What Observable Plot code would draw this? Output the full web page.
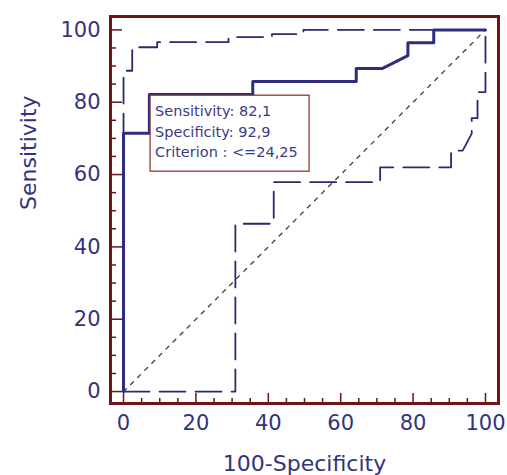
<!DOCTYPE html>
<html>
<head>
<meta charset="utf-8">
<script src="https://cdn.jsdelivr.net/npm/d3@7"></script>
<script src="https://cdn.jsdelivr.net/npm/@observablehq/plot@0.6"></script>
<style>
  html, body { margin: 0; padding: 0; background: #ffffff; }
  #chart { width: 507px; height: 475px; }
</style>
</head>
<body>
<div id="chart"></div>
<script>
// ROC curve (solid)
const rocFPR = [0, 0, 7.14, 7.14, 35.71, 35.71, 64.29, 64.29, 71.43, 78.57, 78.57, 85.71, 85.71, 100];
const rocTPR = [0, 71.43, 71.43, 82.14, 82.14, 85.71, 85.71, 89.29, 89.29, 92.86, 96.43, 96.43, 100, 100];

// Upper confidence bound (dashed)
const upperFPR = [0, 0, 2.4, 2.4, 9.3, 9.3, 29.0, 29.0, 41.0, 41.0, 49.7, 49.7, 100];
const upperTPR = [0, 88.7, 88.7, 95.2, 95.2, 96.6, 96.6, 98.0, 98.0, 98.8, 98.8, 100, 100];

// Lower confidence bound (dashed)
const lowerFPR = [0, 30.9, 30.9, 41.5, 41.5, 70.9, 70.9, 90.5, 90.5, 93.7, 96.2, 96.2, 97.8, 97.8, 100, 100];
const lowerTPR = [0, 0, 46.4, 46.4, 57.9, 57.9, 62.0, 62.0, 66.6, 66.6, 71.3, 75.6, 75.6, 82.8, 82.8, 100];

// Reference diagonal
const diagX = [0, 100];
const diagY = [0, 100];

// Axis ticks
const majorTicks = [0, 20, 40, 60, 80, 100];
const minorTicks = [5, 10, 15, 25, 30, 35, 45, 50, 55, 65, 70, 75, 85, 90, 95];

// Criterion annotation
const critFPR = 7.14;
const critSens = 82.14;
const boxLines = ["Sensitivity: 82,1", "Specificity: 92,9", "Criterion : <=24,25"];

const xTitle = "100-Specificity";
const yTitle = "Sensitivity";

const toPts = (xs, ys) => xs.map((x, i) => ({x, y: ys[i]}));
const roc = toPts(rocFPR, rocTPR);
const upper = toPts(upperFPR, upperTPR);
const lower = toPts(lowerFPR, lowerTPR);
const diag = toPts(diagX, diagY);

const W = 507, H = 475;
const mL = 110, mR = 9, mT = 16, mB = 72;
const frameW = W - mL - mR, frameH = H - mT - mB;

const navy = "#2d2d80";
const labelColor = "#33337d";
const maroon = "#6e1414";
const font = "DejaVu Sans, Verdana, sans-serif";

const annotation = (index, scales) => {
  const g = d3.create("svg:g");
  const bx = scales.x(critFPR) + 1.2;
  const by = scales.y(critSens) + 1.2;
  g.append("rect")
    .attr("x", bx).attr("y", by)
    .attr("width", 159).attr("height", 76)
    .attr("fill", "#ffffff")
    .attr("stroke", "#8a2a1e")
    .attr("stroke-width", 1.2);
  boxLines.forEach((t, i) => {
    g.append("text")
      .attr("x", bx + 5)
      .attr("y", by + 21 + i * 20.5)
      .attr("text-anchor", "start")
      .attr("fill", "#3a3a88")
      .attr("font-family", font)
      .attr("font-size", 14.5)
      .text(t);
  });
  return g.node();
};

const chart = Plot.plot({
  width: W,
  height: H,
  marginLeft: mL,
  marginRight: mR,
  marginTop: mT,
  marginBottom: mB,
  style: { fontFamily: font, background: "#ffffff" },
  x: { domain: [-3.6, 103.6] },
  y: { domain: [-3.3, 103.7] },
  marks: [
    // ticks pointing inward
    Plot.tickX(minorTicks, { x: d => d, stroke: maroon, strokeWidth: 1.5, insetTop: frameH - 5 }),
    Plot.tickX(majorTicks, { x: d => d, stroke: maroon, strokeWidth: 1.5, insetTop: frameH - 10 }),
    Plot.tickY(minorTicks, { y: d => d, stroke: maroon, strokeWidth: 1.5, insetRight: frameW - 6 }),
    Plot.tickY(majorTicks, { y: d => d, stroke: maroon, strokeWidth: 1.5, insetRight: frameW - 12 }),
    // axes labels
    Plot.axisX(majorTicks, { tickSize: 0, tickPadding: 12, fontSize: 21, fill: labelColor, label: null }),
    Plot.axisY(majorTicks, { tickSize: 0, tickPadding: 10, fontSize: 21, fill: labelColor, label: null }),
    // diagonal
    Plot.line(diag, { x: "x", y: "y", stroke: "#5a3030", strokeWidth: 1.3, strokeDasharray: "4,6" }),
    // confidence bounds
    Plot.line(upper, { x: "x", y: "y", stroke: "#2a2a70", strokeWidth: 1.8, strokeDasharray: "26,10" }),
    Plot.line(lower, { x: "x", y: "y", stroke: "#2a2a70", strokeWidth: 1.8, strokeDasharray: "26,10" }),
    // ROC curve
    Plot.line(roc, { x: "x", y: "y", stroke: navy, strokeWidth: 3 }),
    // annotation box
    annotation,
    // titles
    Plot.text([xTitle], { frameAnchor: "bottom", dy: 60.5, text: d => d, fontSize: 22, fill: labelColor, lineAnchor: "middle" }),
    Plot.text([yTitle], { frameAnchor: "left", dx: -82, rotate: -90, text: d => d, fontSize: 22, fill: labelColor, lineAnchor: "middle" }),
    Plot.frame({ stroke: maroon, strokeWidth: 3 })
  ]
});

document.getElementById("chart").appendChild(chart);
</script>
</body>
</html>
